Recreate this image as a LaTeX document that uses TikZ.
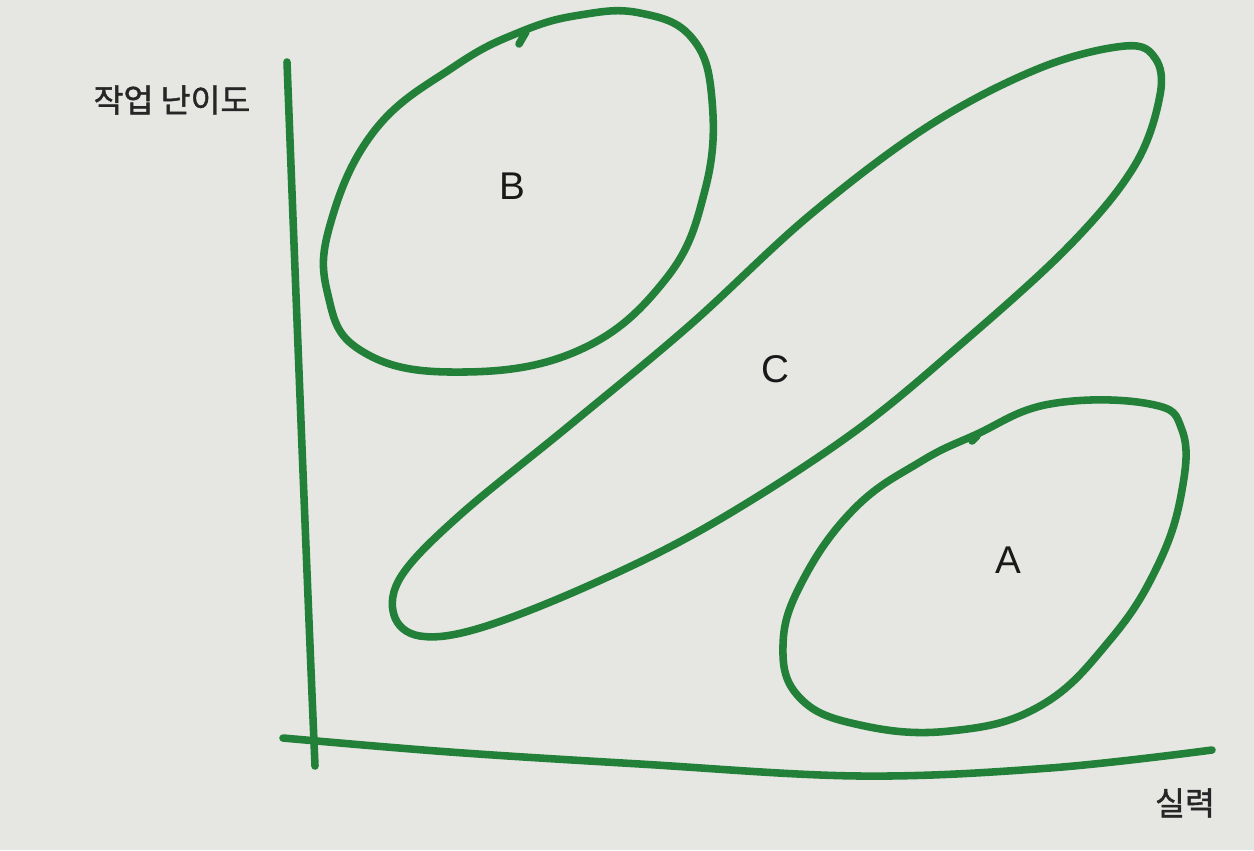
\documentclass[tikz,border=0pt]{standalone}
\usepackage{fontspec}
\setmainfont{Liberation Sans}
\newfontfamily\korfont[FakeBold=1.3]{Noto Sans CJK KR}
\usepackage{xcolor}
\definecolor{pengreen}{RGB}{34,128,56}
\definecolor{paper}{RGB}{230,230,227}
\usetikzlibrary{positioning}

\begin{document}
\begin{tikzpicture}[
        x=0.02cm, y=-0.02cm,
        pen/.style={line width=4.3pt, pengreen, line cap=round, line join=round},
        axislabel/.style={font=\korfont\fontsize{18.5}{20}\selectfont, text=black!85},
        grouplabel/.style={font=\fontsize{22}{24}\selectfont, text=black!90}
    ]

        % Paper background (fixes the bounding box)
        \fill[paper] (0,0) rectangle (1254,850);

        % Axes
        \draw[pen] (287,62) .. controls (298,350) and (308,600) .. (315,766);
        \draw[pen, smooth, tension=0.6] plot coordinates {(283,738) (450,752) (640,764) (860,776) (1050,768) (1212,750)};

        % Axis labels
        \node[axislabel] (yl) at (172,100) {작업 난이도};
        \node[axislabel] (xl) at (1185,803) {실력};

        % Region B
        \draw[pen, smooth cycle, tension=0.7] plot coordinates {
            (520,32) (580,15) (640,13) (692,38) (712,100) (705,190) (665,280)
            (575,352) (450,372) (360,350) (328,295) (330,225) (375,130) (455,66)};
        \draw[pen] (526,32) -- (519,44);

        % Region C
        \draw[pen, smooth cycle, tension=0.6] plot coordinates {
            (1125,46) (1155,58) (1160,95) (1135,165) (1070,245) (960,345)
            (850,435) (710,525) (590,585) (480,628) (420,636) (394,615)
            (402,575) (460,515) (570,425) (690,325) (810,215) (930,125) (1040,68)};

        % Region A
        \draw[pen, smooth cycle, tension=0.7] plot coordinates {
            (1050,404) (1150,404) (1182,430) (1182,490) (1158,565) (1110,640)
            (1040,706) (950,731) (860,725) (800,698) (783,645) (803,580)
            (855,508) (920,462) (975,435)};
        \draw[pen] (977,436) -- (972,441);

        % Region names
        \node[grouplabel] (B) at (512,186) {B};
        \node[grouplabel] (C) at (775,369) {C};
        \node[grouplabel] (A) at (1008,560) {A};

    \end{tikzpicture}
\end{document}
